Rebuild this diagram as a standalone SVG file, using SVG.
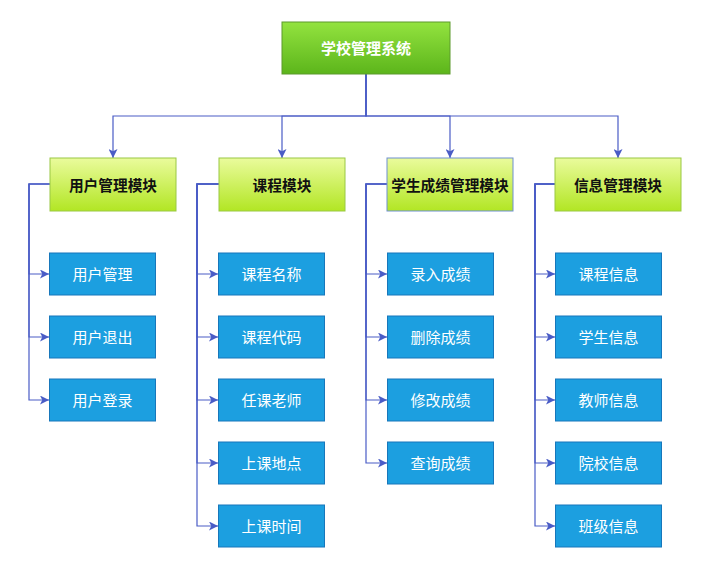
<svg xmlns="http://www.w3.org/2000/svg" width="703" height="569" viewBox="0 0 703 569">
<defs>
<linearGradient id="gTop" x1="0" y1="0" x2="0" y2="1">
<stop offset="0" stop-color="#93e33f"/>
<stop offset="1" stop-color="#5cb51b"/>
</linearGradient>
<linearGradient id="gMod" x1="0" y1="0" x2="0" y2="1">
<stop offset="0" stop-color="#eafb9c"/>
<stop offset="1" stop-color="#b2e624"/>
</linearGradient>
<marker id="arr" viewBox="0 0 10 10" refX="10" refY="5" markerWidth="9" markerHeight="9" markerUnits="userSpaceOnUse" orient="auto">
<path d="M0,0 L10,5 L0,10 L2.5,5 Z" fill="#4a5cc6"/>
</marker>
<style>
.c{fill:none;stroke:#4a5cc6;stroke-width:1.2;marker-end:url(#arr)}
.top rect{fill:url(#gTop);stroke:#5d9a2c;stroke-width:1}
.top text{fill:#fff;font-weight:bold;font-size:15px}
.mod rect{fill:url(#gMod);stroke:#9ac844;stroke-width:1}
.mod text{fill:#111;font-weight:bold;font-size:14.7px}
.leaf rect{fill:#1c9fe0;stroke:#1777bb;stroke-width:1}
.leaf text{fill:#fff;font-size:15px}
text{font-family:"Noto Sans CJK SC","Noto Sans",sans-serif;text-anchor:middle;dominant-baseline:central}
</style>
</defs>
<rect width="703" height="569" fill="#fff"/>
<g id="connectors">
<path class="c" d="M366,74 V116 H113 V158"/>
<path class="c" d="M366,74 V116 H282 V158"/>
<path class="c" d="M366,74 V116 H450 V158"/>
<path class="c" d="M366,74 V116 H618 V158"/>
<path class="c" d="M50,184 H29 V274 H49"/>
<path class="c" d="M50,184 H29 V337 H49"/>
<path class="c" d="M50,184 H29 V400 H49"/>
<path class="c" d="M219,184 H197 V274 H218"/>
<path class="c" d="M219,184 H197 V337 H218"/>
<path class="c" d="M219,184 H197 V400 H218"/>
<path class="c" d="M219,184 H197 V463 H218"/>
<path class="c" d="M219,184 H197 V526 H218"/>
<path class="c" d="M387,184 H366 V274 H387"/>
<path class="c" d="M387,184 H366 V337 H387"/>
<path class="c" d="M387,184 H366 V400 H387"/>
<path class="c" d="M387,184 H366 V463 H387"/>
<path class="c" d="M555,184 H535 V274 H555"/>
<path class="c" d="M555,184 H535 V337 H555"/>
<path class="c" d="M555,184 H535 V400 H555"/>
<path class="c" d="M555,184 H535 V463 H555"/>
<path class="c" d="M555,184 H535 V526 H555"/>
</g>
<g id="root" class="top"><rect x="282" y="22" width="168" height="52"/><text x="366" y="47.5">学校管理系统</text></g>
<g id="m1" class="mod"><rect x="50" y="158" width="126" height="53"/><text x="113" y="184">用户管理模块</text></g>
<g id="m2" class="mod"><rect x="219" y="158" width="126" height="53"/><text x="282" y="184">课程模块</text></g>
<g id="m3" class="mod"><rect x="387" y="158" width="126" height="53" style="stroke:#6f8fd2"/><text x="450" y="184">学生成绩管理模块</text></g>
<g id="m4" class="mod"><rect x="555" y="158" width="126" height="53"/><text x="618" y="184">信息管理模块</text></g>
<g id="l11" class="leaf"><rect x="49.5" y="253" width="106" height="42"/><text x="102.5" y="273.5">用户管理</text></g>
<g id="l12" class="leaf"><rect x="49.5" y="316" width="106" height="42"/><text x="102.5" y="336.5">用户退出</text></g>
<g id="l13" class="leaf"><rect x="49.5" y="379" width="106" height="42"/><text x="102.5" y="399.5">用户登录</text></g>
<g id="l21" class="leaf"><rect x="218.5" y="253" width="106" height="42"/><text x="271.5" y="273.5">课程名称</text></g>
<g id="l22" class="leaf"><rect x="218.5" y="316" width="106" height="42"/><text x="271.5" y="336.5">课程代码</text></g>
<g id="l23" class="leaf"><rect x="218.5" y="379" width="106" height="42"/><text x="271.5" y="399.5">任课老师</text></g>
<g id="l24" class="leaf"><rect x="218.5" y="442" width="106" height="42"/><text x="271.5" y="462.5">上课地点</text></g>
<g id="l25" class="leaf"><rect x="218.5" y="505" width="106" height="42"/><text x="271.5" y="525.5">上课时间</text></g>
<g id="l31" class="leaf"><rect x="387.5" y="253" width="106" height="42"/><text x="440.5" y="273.5">录入成绩</text></g>
<g id="l32" class="leaf"><rect x="387.5" y="316" width="106" height="42"/><text x="440.5" y="336.5">删除成绩</text></g>
<g id="l33" class="leaf"><rect x="387.5" y="379" width="106" height="42"/><text x="440.5" y="399.5">修改成绩</text></g>
<g id="l34" class="leaf"><rect x="387.5" y="442" width="106" height="42"/><text x="440.5" y="462.5">查询成绩</text></g>
<g id="l41" class="leaf"><rect x="555.5" y="253" width="106" height="42"/><text x="608.5" y="273.5">课程信息</text></g>
<g id="l42" class="leaf"><rect x="555.5" y="316" width="106" height="42"/><text x="608.5" y="336.5">学生信息</text></g>
<g id="l43" class="leaf"><rect x="555.5" y="379" width="106" height="42"/><text x="608.5" y="399.5">教师信息</text></g>
<g id="l44" class="leaf"><rect x="555.5" y="442" width="106" height="42"/><text x="608.5" y="462.5">院校信息</text></g>
<g id="l45" class="leaf"><rect x="555.5" y="505" width="106" height="42"/><text x="608.5" y="525.5">班级信息</text></g>
</svg>
